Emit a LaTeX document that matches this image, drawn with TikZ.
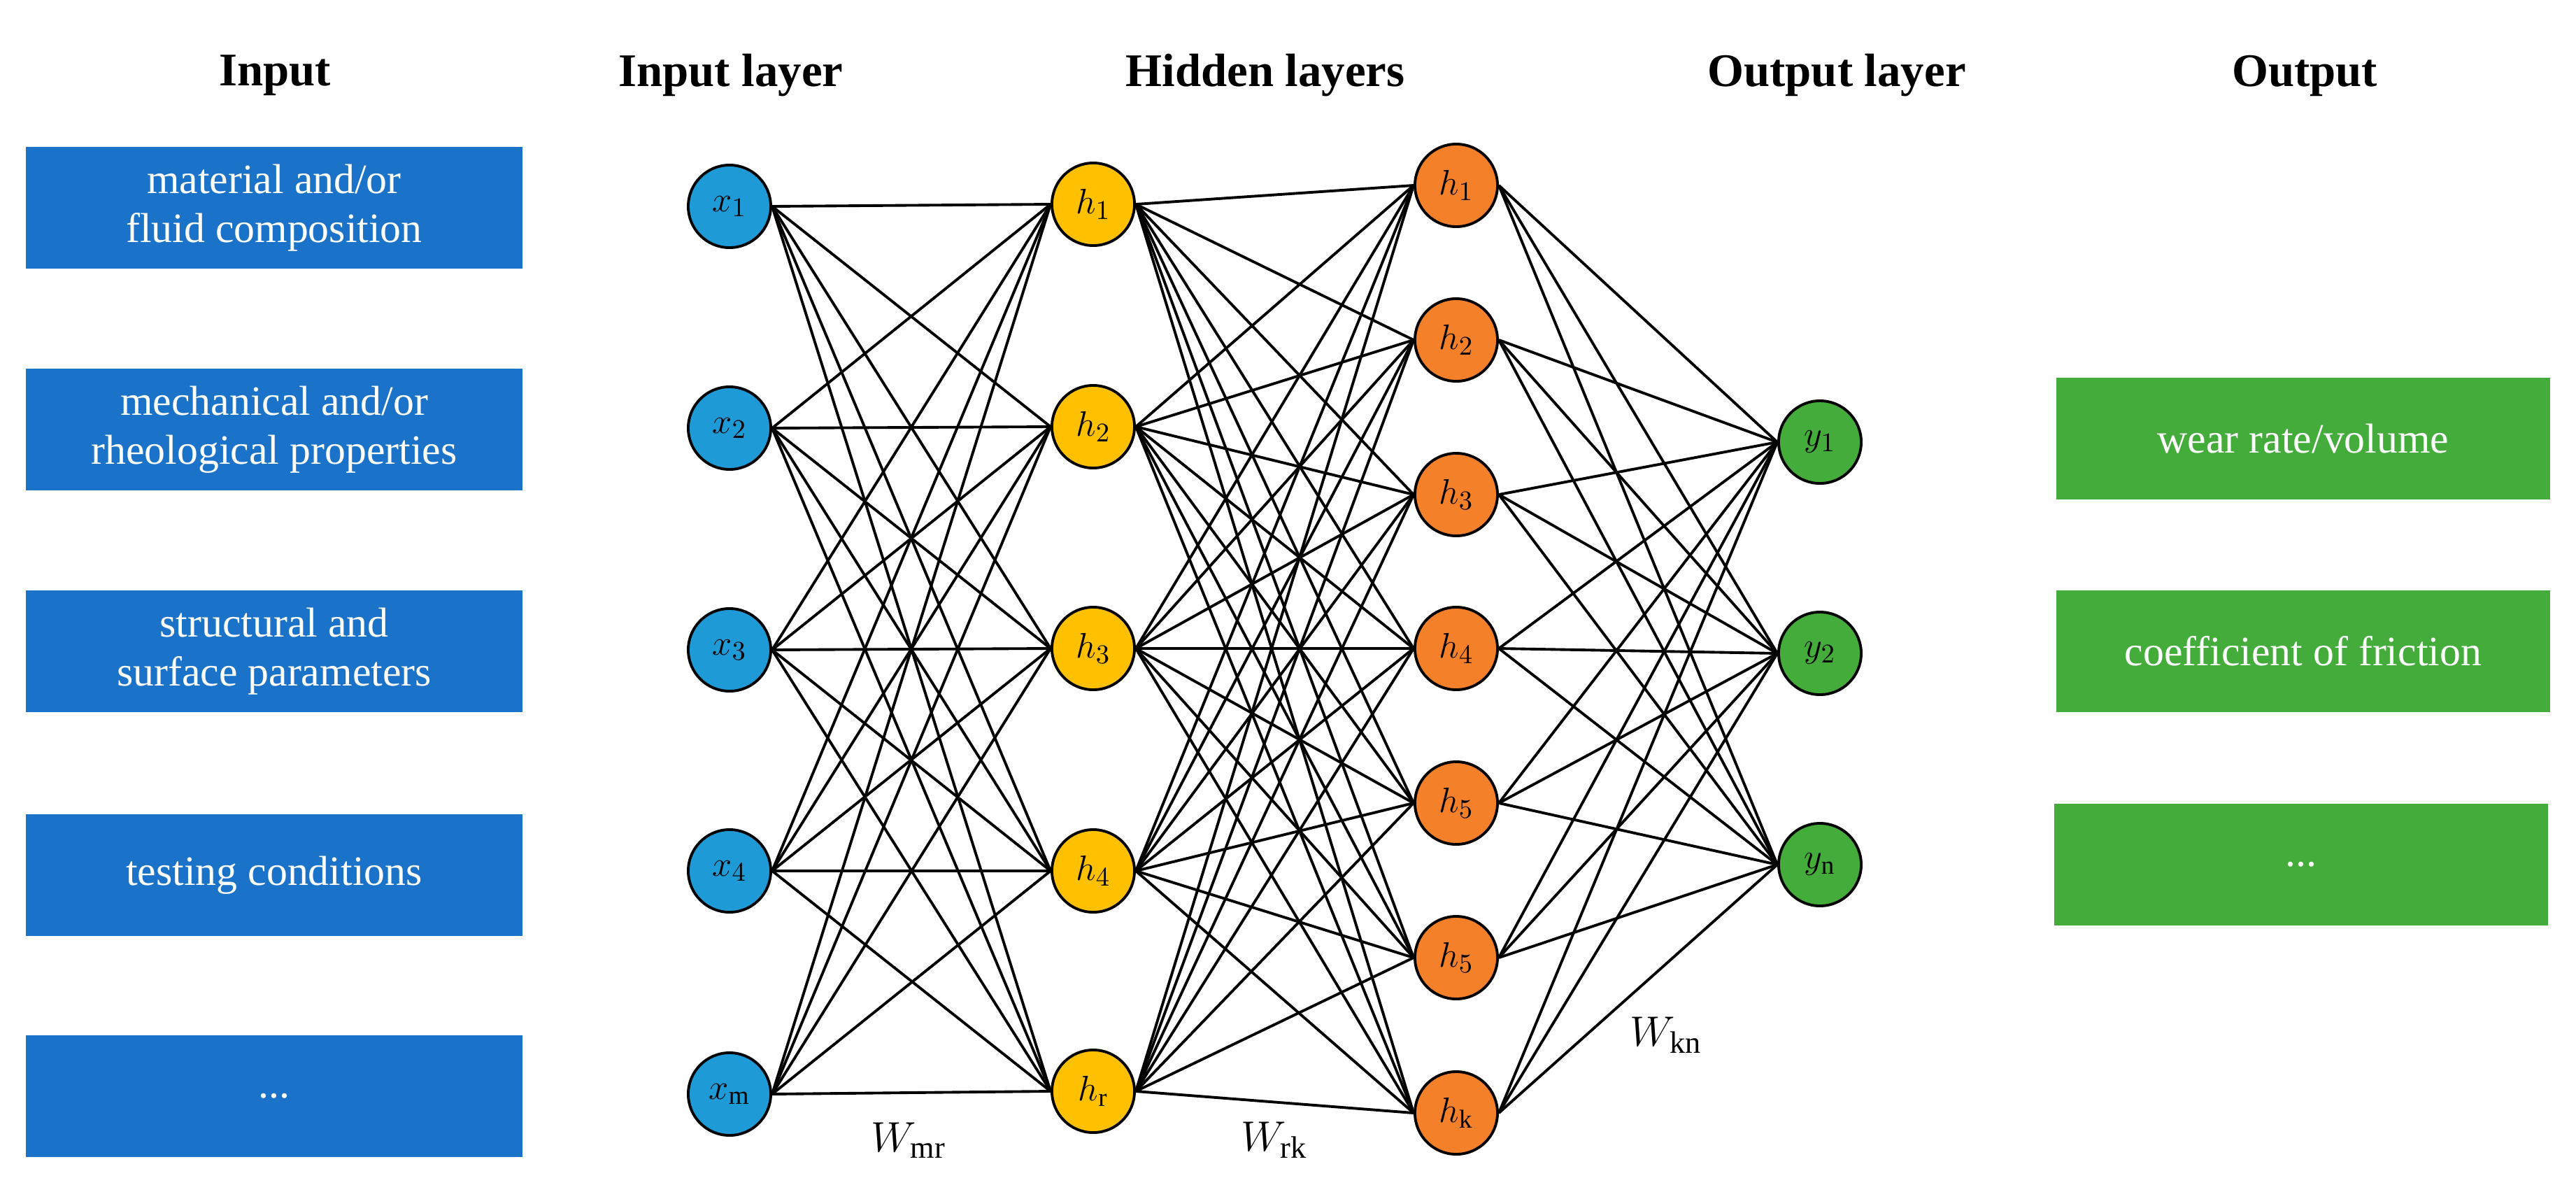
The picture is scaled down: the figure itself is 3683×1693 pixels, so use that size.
\documentclass[tikz,border=0pt]{standalone}
\usepackage{fontspec}
\setmainfont{Liberation Serif}
\usetikzlibrary{backgrounds}
\definecolor{boxblue}{HTML}{1A73C8}
\definecolor{nblue}{HTML}{1E9AD6}
\definecolor{nyellow}{HTML}{FFC000}
\definecolor{norange}{HTML}{F5802A}
\definecolor{ngreen}{HTML}{43AC3A}
\begin{document}
\begin{tikzpicture}[x=0.01cm,y=-0.01cm,
  neuron/.style={circle,draw=black,line width=1.1pt,minimum size=1.18cm,inner sep=0pt,font=\fontsize{15}{15}\selectfont},
  ibox/.style={fill=boxblue,text=white,minimum width=7.09cm,minimum height=1.74cm,align=center,inner sep=0pt,font=\fontsize{17}{20}\selectfont},
  obox/.style={fill=ngreen,text=white,minimum width=7.06cm,minimum height=1.74cm,align=center,inner sep=0pt,font=\fontsize{17}{20}\selectfont},
  head/.style={font=\bfseries\fontsize{19}{19}\selectfont},
  wl/.style={font=\fontsize{18}{18}\selectfont},
  edge/.style={line width=1.1pt,black}]
\useasboundingbox (0,0) rectangle (3683,1693);
% headings
\node[head] (hIn) at (393,108) {Input};
\node[head] (hIL) at (1045,108) {Input layer};
\node[head] (hHL) at (1809,108) {Hidden layers};
\node[head] (hOL) at (2626,108) {Output layer};
\node[head] (hO) at (3295,108) {Output};
% input boxes
\node[ibox] (b1) at (392,297) {material and/or\\fluid composition};
\node[ibox] (b2) at (392,614) {mechanical and/or\\rheological properties};
\node[ibox] (b3) at (392,931) {structural and\\surface parameters};
\node[ibox] (b4) at (392,1251) {testing conditions};
\node[ibox] (b5) at (392,1567) {...};
% output boxes
\node[obox] (o1) at (3293,627) {wear rate/volume};
\node[obox] (o2) at (3293,931) {coefficient of friction};
\node[obox] (o3) at (3290,1236) {...};
% input neurons
\node[neuron,fill=nblue] (x1) at (1043,295) {$x_1$};
\node[neuron,fill=nblue] (x2) at (1043,612) {$x_2$};
\node[neuron,fill=nblue] (x3) at (1043,929) {$x_3$};
\node[neuron,fill=nblue] (x4) at (1043,1245) {$x_4$};
\node[neuron,fill=nblue] (x5) at (1043,1564) {$x_{\mathrm{m}}$};
% hidden 1
\node[neuron,fill=nyellow] (a1) at (1563,292) {$h_1$};
\node[neuron,fill=nyellow] (a2) at (1563,610) {$h_2$};
\node[neuron,fill=nyellow] (a3) at (1563,927) {$h_3$};
\node[neuron,fill=nyellow] (a4) at (1563,1245) {$h_4$};
\node[neuron,fill=nyellow] (a5) at (1563,1560) {$h_{\mathrm{r}}$};
% hidden 2
\node[neuron,fill=norange] (c1) at (2082,265) {$h_1$};
\node[neuron,fill=norange] (c2) at (2082,486) {$h_2$};
\node[neuron,fill=norange] (c3) at (2082,707) {$h_3$};
\node[neuron,fill=norange] (c4) at (2082,927) {$h_4$};
\node[neuron,fill=norange] (c5) at (2082,1148) {$h_5$};
\node[neuron,fill=norange] (c6) at (2082,1369) {$h_5$};
\node[neuron,fill=norange] (c7) at (2082,1591) {$h_{\mathrm{k}}$};
% outputs
\node[neuron,fill=ngreen] (y1) at (2602,632) {$y_1$};
\node[neuron,fill=ngreen] (y2) at (2602,934) {$y_2$};
\node[neuron,fill=ngreen] (y3) at (2602,1236) {$y_{\mathrm{n}}$};
% weight labels
\node[wl] (wmr) at (1299,1630) {$W_{\mathrm{mr}}$};
\node[wl] (wrk) at (1822,1630) {$W_{\mathrm{rk}}$};
\node[wl] (wkn) at (2382,1480) {$W_{\mathrm{kn}}$};
\begin{scope}[on background layer]
\foreach \i in {1,...,5}{\foreach \j in {1,...,5}{\draw[edge] (x\i.east) -- (a\j.west);}}
\foreach \i in {1,...,5}{\foreach \j in {1,...,7}{\draw[edge] (a\i.east) -- (c\j.west);}}
\foreach \i in {1,...,7}{\foreach \j in {1,...,3}{\draw[edge] (c\i.east) -- (y\j.west);}}
\end{scope}
\end{tikzpicture}
\end{document}
